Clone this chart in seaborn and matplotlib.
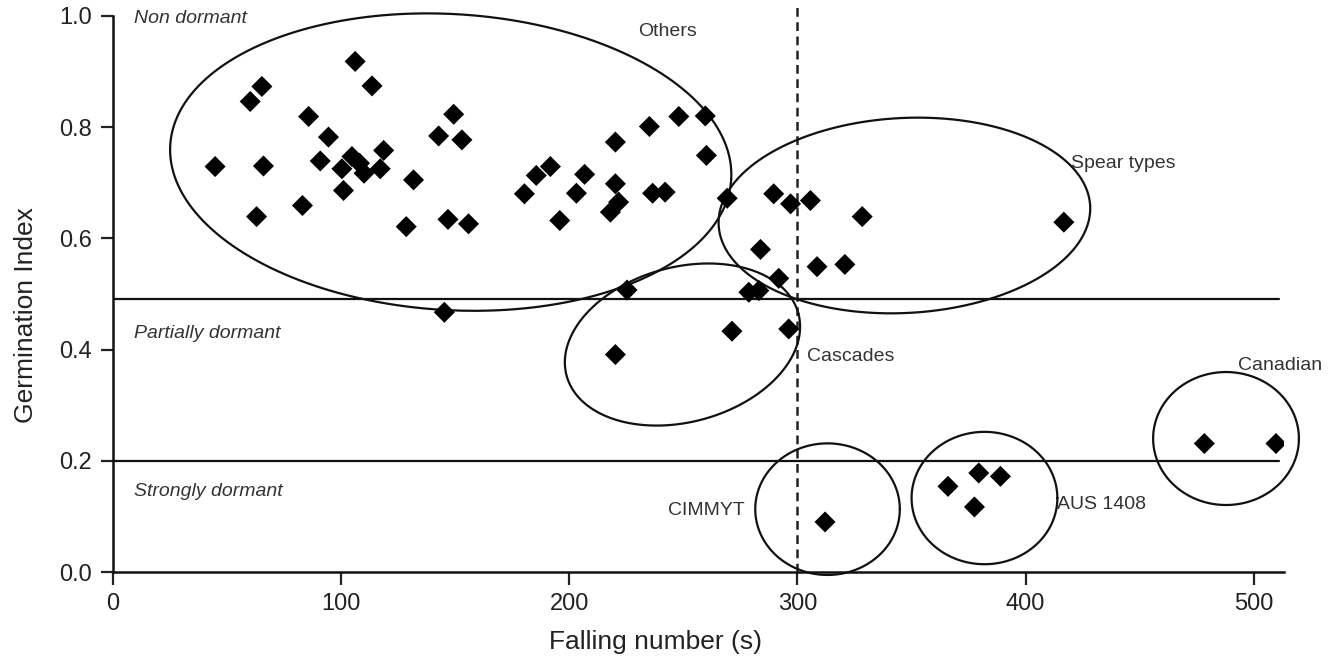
import numpy as np
import pandas as pd
import matplotlib
matplotlib.use("Agg")
import matplotlib.pyplot as plt
import seaborn as sns

# ---- data ----
falling_number = [44.7, 60.1, 65.2, 65.9, 62.9, 83.0, 85.7, 90.8, 94.4, 100.3,
                  101.0, 104.7, 106.1, 108.0, 110.0, 113.5, 117.1, 118.6, 128.5, 131.7,
                  142.7, 146.8, 149.3, 152.9, 155.8, 145.2, 180.3, 185.5, 191.7, 195.8,
                  203.1, 206.7, 218.0, 220.2, 220.2, 221.6, 235.1, 236.5, 242.0, 248.0,
                  259.6, 260.1, 225.3, 220.2, 269.2, 271.3, 278.7, 283.1, 283.8, 289.6,
                  291.8, 296.2, 297.0, 305.7, 308.6, 320.8, 328.4, 416.8, 312.1, 366.0,
                  379.5, 389.0, 377.6, 478.4, 509.8]
germination_index = [0.729, 0.846, 0.873, 0.730, 0.639, 0.659, 0.819, 0.739, 0.782, 0.725,
                     0.686, 0.747, 0.918, 0.735, 0.717, 0.874, 0.725, 0.758, 0.621, 0.705,
                     0.784, 0.634, 0.823, 0.777, 0.626, 0.467, 0.680, 0.713, 0.729, 0.632,
                     0.681, 0.715, 0.647, 0.773, 0.698, 0.665, 0.801, 0.681, 0.683, 0.819,
                     0.820, 0.749, 0.507, 0.391, 0.672, 0.433, 0.503, 0.506, 0.580, 0.680,
                     0.528, 0.437, 0.662, 0.668, 0.549, 0.553, 0.639, 0.629, 0.090, 0.154,
                     0.178, 0.172, 0.117, 0.231, 0.231]

x_ticks = [0, 100, 200, 300, 400, 500]
y_ticks = [0.0, 0.2, 0.4, 0.6, 0.8, 1.0]
dormancy_thresholds = [0.49, 0.2]
falling_number_cutoff = 300

zone_labels = ["Non dormant", "Partially dormant", "Strongly dormant"]
zone_label_y = [0.995, 0.429, 0.145]

group_names = ["Others", "Spear types", "Cascades", "CIMMYT", "AUS 1408", "Canadian"]
group_center_x = [148.0, 346.9, 249.6, 313.2, 382.0, 487.9]
group_center_y = [0.737, 0.641, 0.409, 0.113, 0.133, 0.240]
# label anchors
group_label_x = [230, 420, 304, 277, 414, 493]
group_label_y = [0.971, 0.734, 0.388, 0.111, 0.122, 0.372]
group_label_ha = ["left", "left", "left", "right", "left", "left"]

# ---- styling ----
sns.set_theme(style="ticks")
plt.rcParams["font.family"] = ["Liberation Sans", "DejaVu Sans"]

fig = plt.figure(figsize=(13.31, 6.59), dpi=100)
ax = fig.add_axes([0.085, 0.132, 0.880, 0.844])

df = pd.DataFrame({"fn": falling_number, "gi": germination_index})
sns.scatterplot(data=df, x="fn", y="gi", marker="D", s=115, color="black",
                edgecolor="none", ax=ax, zorder=5)

ax.set_xlim(0, 513.5)
ax.set_ylim(0, 1.0)
ax.set_xticks(x_ticks)
ax.set_yticks(y_ticks)
ax.set_yticklabels([f"{v:.1f}" for v in y_ticks])
ax.tick_params(axis="both", labelsize=17, colors="#222222", length=9, width=1.6,
               direction="out", pad=6)
ax.set_xlabel("Falling number (s)", fontsize=19, color="#222222")
ax.set_ylabel("Germination Index", fontsize=19, color="#222222")
ax.xaxis.set_label_coords(0.463, -0.105)
ax.yaxis.set_label_coords(-0.064, 0.462)
sns.despine(ax=ax)
for sp in ["left", "bottom"]:
    ax.spines[sp].set_linewidth(1.8)
    ax.spines[sp].set_color("#111111")

# threshold lines
for yv in dormancy_thresholds:
    ax.plot([0, 511], [yv, yv], color="#111111", lw=1.6, zorder=2)
ax.plot([falling_number_cutoff, falling_number_cutoff], [0, 1.02], color="#222222",
        lw=1.8, ls=(0, (3.5, 2.2)), zorder=2, clip_on=False)

for lab, yv in zip(zone_labels, zone_label_y):
    ax.text(9.2, yv, lab, fontsize=14, style="italic", color="#333333",
            ha="left", va="center")

# group ellipses: radii in screen pixels, rotation in screen degrees
ell_a = [281, 186, 120, 72.3, 72.9, 72.9]
ell_b = [148, 97.5, 77.5, 65.8, 66.2, 66.5]
ell_ang = [-3.5, 3, 15, 0, 0, 0]

fig.canvas.draw()
p0 = ax.transData.transform((0, 0))
p1 = ax.transData.transform((1, 1))
sx, sy = p1[0] - p0[0], p1[1] - p0[1]
t = np.linspace(0, 2 * np.pi, 400)
for cx, cy, a, b, ang in zip(group_center_x, group_center_y, ell_a, ell_b, ell_ang):
    th = np.deg2rad(ang)
    u, v = a * np.cos(t), b * np.sin(t)
    du = u * np.cos(th) - v * np.sin(th)
    dv = u * np.sin(th) + v * np.cos(th)
    ax.plot(cx + du / sx, cy + dv / sy, color="#111111", lw=1.6, zorder=3, clip_on=False)

for name, lx, ly, ha in zip(group_names, group_label_x, group_label_y, group_label_ha):
    ax.text(lx, ly, name, fontsize=14, color="#333333", ha=ha, va="center")

fig.savefig("out.png", dpi=100)
